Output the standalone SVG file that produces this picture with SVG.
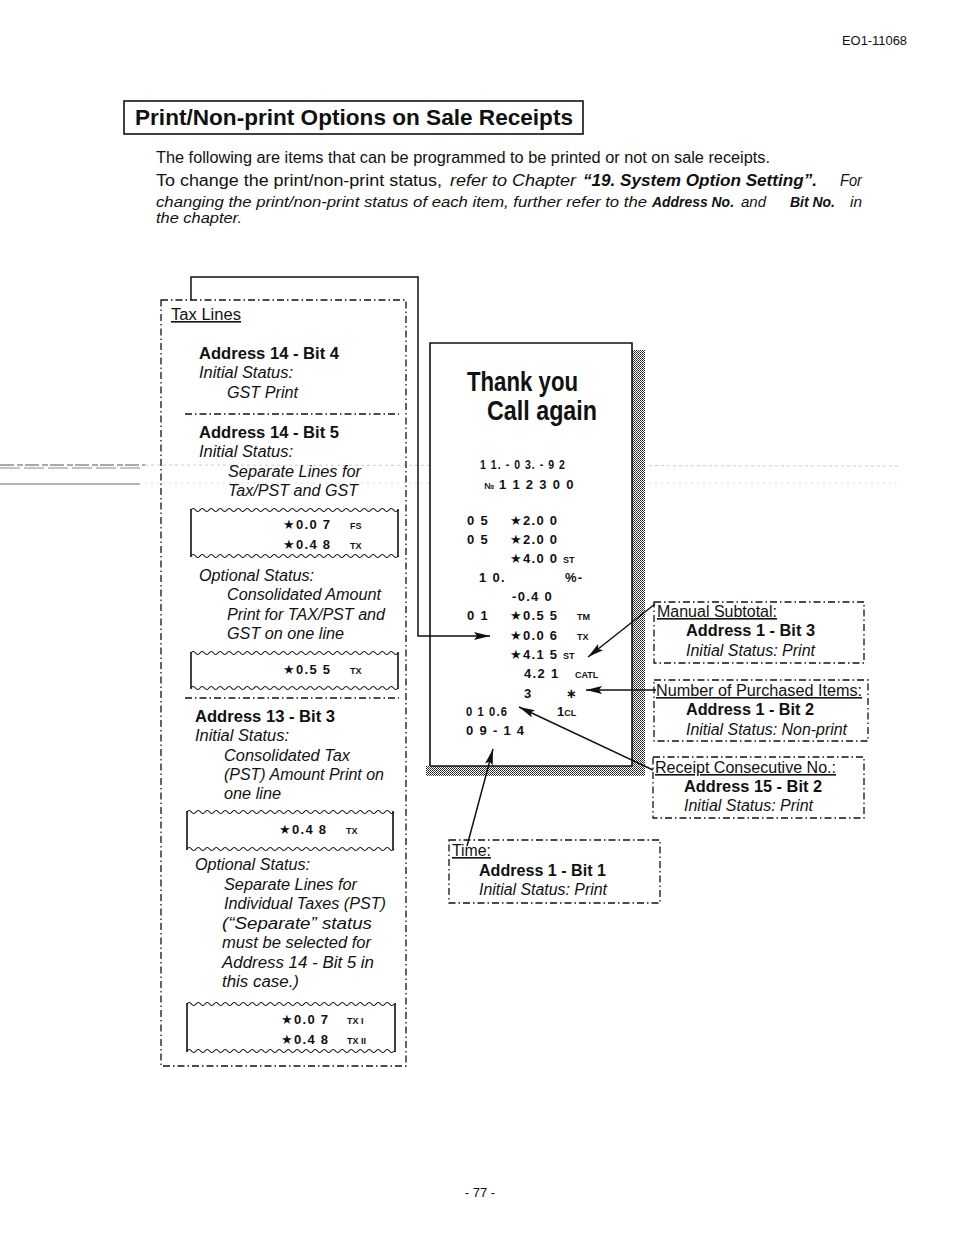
<svg xmlns="http://www.w3.org/2000/svg" xmlns:xlink="http://www.w3.org/1999/xlink" width="954" height="1239" viewBox="0 0 954 1239">
<style>
text{font-family:"Liberation Sans","DejaVu Sans",sans-serif;fill:#111}
.b{font-weight:bold;font-size:16.5px}
.i{font-style:italic;font-size:16px}
.r{font-size:16px}
.u{text-decoration:underline}
.p{font-size:16px}
.p2{font-size:15px}
.rc{font-weight:bold;font-size:13px;letter-spacing:1.3px}
.sm{font-weight:bold;font-size:9px}
.dd{fill:none;stroke:#111;stroke-width:1.3;stroke-dasharray:7 3 1.5 3}
.ln{fill:none;stroke:#111;stroke-width:1.6}
.wv{fill:none;stroke:#111;stroke-width:1.2}
</style>
<defs>
<pattern id="st" width="2" height="2" patternUnits="userSpaceOnUse"><rect width="2" height="2" fill="#fff"/><rect width="1" height="1" fill="#222"/><rect x="1" y="1" width="1" height="1" fill="#444"/></pattern>
<path id="wave" d="M0,0 q2.25,-3 4.5,0 t4.5,0 t4.5,0 t4.5,0 t4.5,0 t4.5,0 t4.5,0 t4.5,0 t4.5,0 t4.5,0 t4.5,0 t4.5,0 t4.5,0 t4.5,0 t4.5,0 t4.5,0 t4.5,0 t4.5,0 t4.5,0 t4.5,0 t4.5,0 t4.5,0 t4.5,0 t4.5,0 t4.5,0 t4.5,0 t4.5,0 t4.5,0 t4.5,0 t4.5,0 t4.5,0 t4.5,0 t4.5,0 t4.5,0 t4.5,0 t4.5,0 t4.5,0 t4.5,0 t4.5,0 t4.5,0 t4.5,0 t4.5,0 t4.5,0 t4.5,0 t4.5,0 t4.5,0"/>
<marker id="ah" viewBox="0 0 16 8" refX="16" refY="4" markerWidth="16" markerHeight="8" markerUnits="userSpaceOnUse" orient="auto"><path d="M0,0 L16,4 L0,8 L3,4 Z" fill="#111"/></marker>
</defs>
<rect width="954" height="1239" fill="#fff"/>

<g id="artifacts">
<line x1="0" y1="465" x2="145" y2="465" stroke="#555" stroke-width="1" stroke-dasharray="14 3 6 2"/>
<line x1="0" y1="468" x2="140" y2="468" stroke="#888" stroke-width="1" stroke-dasharray="20 4"/>
<line x1="0" y1="484" x2="140" y2="484" stroke="#666" stroke-width="1"/>
<line x1="145" y1="465" x2="900" y2="466" stroke="#ccc" stroke-width="1" stroke-dasharray="3 3"/>
<line x1="145" y1="483" x2="900" y2="483" stroke="#ddd" stroke-width="1" stroke-dasharray="2 4"/>
</g>

<g id="header">
<text x="842" y="45" style="font-size:12px" textLength="65" lengthAdjust="spacingAndGlyphs">EO1-11068</text>
</g>

<g id="title">
<rect x="124" y="101" width="459" height="33" fill="none" stroke="#111" stroke-width="1.6"/>
<text x="135" y="125" style="font-weight:bold;font-size:22px" textLength="438" lengthAdjust="spacingAndGlyphs">Print/Non-print Options on Sale Receipts</text>
</g>

<g id="intro">
<text class="p" x="156" y="163" textLength="614" lengthAdjust="spacingAndGlyphs">The following are items that can be programmed to be printed or not on sale receipts.</text>
<text class="p" x="156" y="186" textLength="286" lengthAdjust="spacingAndGlyphs">To change the print/non-print status,</text>
<text class="p" x="450" y="186" font-style="italic" textLength="126" lengthAdjust="spacingAndGlyphs">refer to Chapter</text>
<text class="p" x="583" y="186" font-style="italic" font-weight="bold" textLength="234" lengthAdjust="spacingAndGlyphs">“19. System Option Setting”.</text>
<text class="p" x="840" y="186" font-style="italic" textLength="22" lengthAdjust="spacingAndGlyphs">For</text>
<text class="p2" x="156" y="207" font-style="italic" textLength="491" lengthAdjust="spacingAndGlyphs">changing the print/non-print status of each item, further refer to the</text>
<text class="p2" x="652" y="207" font-style="italic" font-weight="bold" textLength="82" lengthAdjust="spacingAndGlyphs">Address No.</text>
<text class="p2" x="741" y="207" font-style="italic" textLength="25" lengthAdjust="spacingAndGlyphs">and</text>
<text class="p2" x="790" y="207" font-style="italic" font-weight="bold" textLength="45" lengthAdjust="spacingAndGlyphs">Bit No.</text>
<text class="p2" x="850" y="207" font-style="italic" textLength="12" lengthAdjust="spacingAndGlyphs">in</text>
<text class="p2" x="156" y="223" font-style="italic" textLength="86" lengthAdjust="spacingAndGlyphs">the chapter.</text>
</g>

<g id="tax-lines">
<rect class="dd" x="161" y="300" width="245" height="766"/>
<text class="r u" x="171" y="320" textLength="70" lengthAdjust="spacingAndGlyphs">Tax Lines</text>
<text class="b" x="199" y="359" textLength="140" lengthAdjust="spacingAndGlyphs">Address 14 - Bit 4</text>
<text class="i" x="199" y="378" textLength="94" lengthAdjust="spacingAndGlyphs">Initial Status:</text>
<text class="i" x="227" y="398" textLength="71" lengthAdjust="spacingAndGlyphs">GST Print</text>
<line class="dd" x1="185" y1="414" x2="399" y2="414"/>
<text class="b" x="199" y="438" textLength="140" lengthAdjust="spacingAndGlyphs">Address 14 - Bit 5</text>
<text class="i" x="199" y="457" textLength="94" lengthAdjust="spacingAndGlyphs">Initial Status:</text>
<text class="i" x="228" y="477" textLength="133" lengthAdjust="spacingAndGlyphs">Separate Lines for</text>
<text class="i" x="228" y="496" textLength="130" lengthAdjust="spacingAndGlyphs">Tax/PST and GST</text>

<g id="slip1">
<use href="#wave" class="wv" transform="translate(191,510)"/>
<use href="#wave" class="wv" transform="translate(191,556)"/>
<line class="ln" x1="191" y1="509" x2="191" y2="557"/>
<line class="ln" x1="398" y1="509" x2="398" y2="557"/>
<text class="rc" x="283" y="529">★0.0 7</text><text class="sm" x="350" y="529">FS</text>
<text class="rc" x="283" y="549">★0.4 8</text><text class="sm" x="350" y="549">TX</text>
</g>

<text class="i" x="199" y="581" textLength="115" lengthAdjust="spacingAndGlyphs">Optional Status:</text>
<text class="i" x="227" y="600" textLength="154" lengthAdjust="spacingAndGlyphs">Consolidated Amount</text>
<text class="i" x="227" y="620" textLength="158" lengthAdjust="spacingAndGlyphs">Print for TAX/PST and</text>
<text class="i" x="227" y="639" textLength="117" lengthAdjust="spacingAndGlyphs">GST on one line</text>

<g id="slip2">
<use href="#wave" class="wv" transform="translate(191,653)"/>
<use href="#wave" class="wv" transform="translate(191,688)"/>
<line class="ln" x1="191" y1="652" x2="191" y2="689"/>
<line class="ln" x1="398" y1="652" x2="398" y2="689"/>
<text class="rc" x="283" y="674">★0.5 5</text><text class="sm" x="350" y="674">TX</text>
</g>

<line class="dd" x1="185" y1="698" x2="399" y2="698"/>
<text class="b" x="195" y="722" textLength="140" lengthAdjust="spacingAndGlyphs">Address 13 - Bit 3</text>
<text class="i" x="195" y="741" textLength="94" lengthAdjust="spacingAndGlyphs">Initial Status:</text>
<text class="i" x="224" y="761" textLength="126" lengthAdjust="spacingAndGlyphs">Consolidated Tax</text>
<text class="i" x="224" y="780" textLength="160" lengthAdjust="spacingAndGlyphs">(PST) Amount Print on</text>
<text class="i" x="224" y="799" textLength="57" lengthAdjust="spacingAndGlyphs">one line</text>

<g id="slip3">
<use href="#wave" class="wv" transform="translate(187,812)"/>
<use href="#wave" class="wv" transform="translate(187,849)"/>
<line class="ln" x1="187" y1="811" x2="187" y2="850"/>
<line class="ln" x1="393" y1="811" x2="393" y2="850"/>
<text class="rc" x="279" y="834">★0.4 8</text><text class="sm" x="346" y="834">TX</text>
</g>

<text class="i" x="195" y="870" textLength="115" lengthAdjust="spacingAndGlyphs">Optional Status:</text>
<text class="i" x="224" y="890" textLength="133" lengthAdjust="spacingAndGlyphs">Separate Lines for</text>
<text class="i" x="224" y="909" textLength="162" lengthAdjust="spacingAndGlyphs">Individual Taxes (PST)</text>
<text class="i" x="222" y="929" textLength="150" lengthAdjust="spacingAndGlyphs">(“Separate” status</text>
<text class="i" x="222" y="948" textLength="149" lengthAdjust="spacingAndGlyphs">must be selected for</text>
<text class="i" x="222" y="968" textLength="152" lengthAdjust="spacingAndGlyphs">Address 14 - Bit 5 in</text>
<text class="i" x="222" y="987" textLength="77" lengthAdjust="spacingAndGlyphs">this case.)</text>

<g id="slip4">
<use href="#wave" class="wv" transform="translate(187,1004)"/>
<use href="#wave" class="wv" transform="translate(187,1051)"/>
<line class="ln" x1="187" y1="1003" x2="187" y2="1052"/>
<line class="ln" x1="395" y1="1003" x2="395" y2="1052"/>
<text class="rc" x="281" y="1024">★0.0 7</text><text class="sm" x="347" y="1024">TX I</text>
<text class="rc" x="281" y="1044">★0.4 8</text><text class="sm" x="347" y="1044">TX II</text>
</g>
</g>

<g id="receipt">
<rect x="632" y="350" width="13" height="426" fill="url(#st)"/>
<rect x="426" y="766" width="219" height="10" fill="url(#st)"/>
<rect x="430" y="343" width="202" height="423" fill="#fff"/>
<path d="M430,766 L430,343 L632,343 L632,766 L430,766" fill="none" stroke="#111" stroke-width="1.6"/>
<text x="467" y="391" style="font-weight:bold;font-size:27px" textLength="111" lengthAdjust="spacingAndGlyphs">Thank you</text>
<text x="487" y="420" style="font-weight:bold;font-size:27px" textLength="110" lengthAdjust="spacingAndGlyphs">Call  again</text>
<text class="rc" x="480" y="469" textLength="86" lengthAdjust="spacingAndGlyphs">1 1. - 0 3. - 9 2</text>
<text class="rc" x="484" y="489"><tspan style="font-size:9px;letter-spacing:0">№</tspan> 1 1 2 3 0 0</text>
<text class="rc" x="467" y="525">0 5</text><text class="rc" x="510" y="525">★2.0 0</text>
<text class="rc" x="467" y="544">0 5</text><text class="rc" x="510" y="544">★2.0 0</text>
<text class="rc" x="510" y="563">★4.0 0</text><text class="sm" x="563" y="563">ST</text>
<text class="rc" x="479" y="582">1 0.</text><text class="rc" x="565" y="582">%-</text>
<text class="rc" x="512" y="601">-0.4 0</text>
<text class="rc" x="467" y="620">0 1</text><text class="rc" x="510" y="620">★0.5 5</text><text class="sm" x="577" y="620">TM</text>
<text class="rc" x="510" y="640">★0.0 6</text><text class="sm" x="577" y="640">TX</text>
<text class="rc" x="510" y="659">★4.1 5</text><text class="sm" x="563" y="659">ST</text>
<text class="rc" x="524" y="678">4.2 1</text><text class="sm" x="575" y="678">CATL</text>
<text class="rc" x="524" y="698">3</text><text class="rc" x="566" y="698">∗</text>
<text class="rc" x="466" y="716" textLength="42" lengthAdjust="spacingAndGlyphs">0 1 0.6</text><text class="rc" x="557" y="716" style="letter-spacing:0">1<tspan style="font-size:9px">CL</tspan></text>
<text class="rc" x="466" y="735">0 9 - 1 4</text>
</g>

<g id="manual-subtotal">
<rect class="dd" x="654" y="602" width="210" height="61"/>
<text class="r u" x="657" y="617" textLength="120" lengthAdjust="spacingAndGlyphs">Manual Subtotal:</text>
<text class="b" x="686" y="636" textLength="129" lengthAdjust="spacingAndGlyphs">Address 1 - Bit 3</text>
<text class="i" x="686" y="656" textLength="129" lengthAdjust="spacingAndGlyphs">Initial Status: Print</text>
</g>

<g id="purchased-items">
<rect class="dd" x="654" y="680" width="214" height="61"/>
<text class="r u" x="656" y="696" textLength="206" lengthAdjust="spacingAndGlyphs">Number of Purchased Items:</text>
<text class="b" x="686" y="715" textLength="128" lengthAdjust="spacingAndGlyphs">Address 1 - Bit 2</text>
<text class="i" x="686" y="735" textLength="161" lengthAdjust="spacingAndGlyphs">Initial Status: Non-print</text>
</g>

<g id="consecutive-no">
<rect class="dd" x="653" y="757" width="211" height="61"/>
<text class="r u" x="655" y="773" textLength="181" lengthAdjust="spacingAndGlyphs">Receipt Consecutive No.:</text>
<text class="b" x="684" y="792" textLength="138" lengthAdjust="spacingAndGlyphs">Address 15 - Bit 2</text>
<text class="i" x="684" y="811" textLength="129" lengthAdjust="spacingAndGlyphs">Initial Status: Print</text>
</g>

<g id="time">
<rect class="dd" x="449" y="840" width="211" height="63"/>
<text class="r u" x="452" y="856" textLength="39" lengthAdjust="spacingAndGlyphs">Time:</text>
<text class="b" x="479" y="876" textLength="127" lengthAdjust="spacingAndGlyphs">Address 1 - Bit 1</text>
<text class="i" x="479" y="895" textLength="128" lengthAdjust="spacingAndGlyphs">Initial Status: Print</text>
</g>

<g id="connectors" fill="none" stroke="#111" stroke-width="1.5">
<path d="M191,300 L191,277 L418,277 L418,636 L490,636" marker-end="url(#ah)"/>
<path d="M655,604 L588,657" marker-end="url(#ah)"/>
<path d="M656,690 L586,690" marker-end="url(#ah)"/>
<path d="M653,770 L519,707" marker-end="url(#ah)"/>
<path d="M467,846 L493,749" marker-end="url(#ah)"/>
</g>

<g id="footer">
<text x="480" y="1197" text-anchor="middle" style="font-size:13px">- 77 -</text>
</g>
</svg>
